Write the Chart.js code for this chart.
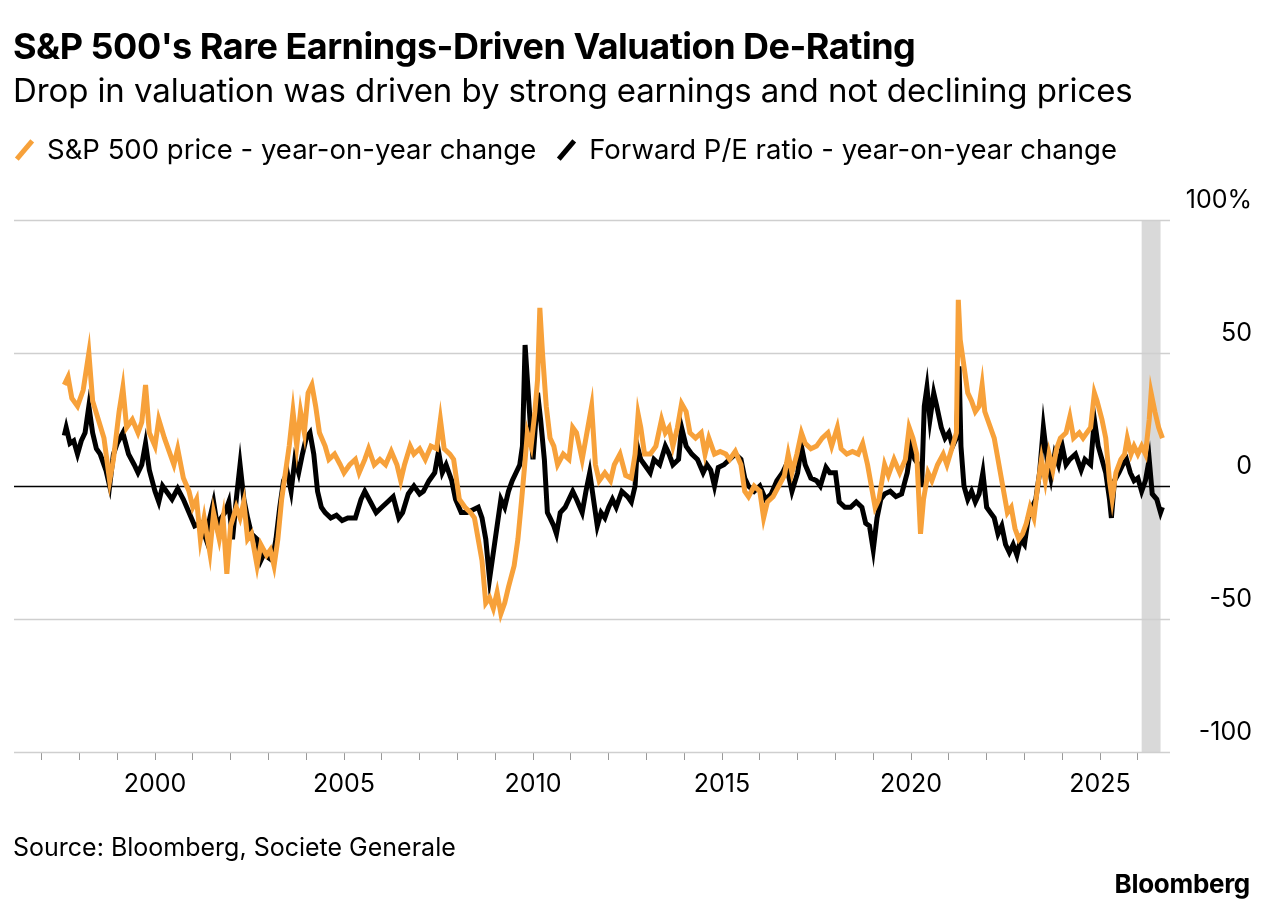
<!DOCTYPE html>
<html><head><meta charset="utf-8">
<script src="https://cdn.jsdelivr.net/npm/chart.js@4"></script>
<style>
body{margin:0;background:#fff;font-family:Inter,"Liberation Sans",sans-serif;color:#000;}
#wrap{position:absolute;left:0;top:0;width:1280px;height:923px;}
.t{position:absolute;white-space:nowrap;}
#title{left:13px;top:24px;font-size:36px;font-weight:700;letter-spacing:-0.5px;}
#sub{left:13px;top:70px;font-size:33px;letter-spacing:-0.1px;}
#leg{left:14px;top:132px;font-size:27.5px;}
.sw{display:inline-block;width:5px;height:24px;transform:rotate(40deg);vertical-align:-3px;margin:0 20px 0 8px;}
#src{left:13px;top:832px;font-size:25px;}
#bb{right:30px;top:868px;font-size:26px;font-weight:700;letter-spacing:-0.3px;}
canvas{position:absolute;left:0;top:0;}
</style></head><body>
<div id="wrap">
<canvas id="c" width="1280" height="923"></canvas>
<div class="t" id="title">S&amp;P 500's Rare Earnings-Driven Valuation De-Rating</div>
<div class="t" id="sub">Drop in valuation was driven by strong earnings and not declining prices</div>
<div class="t" id="leg"><span class="sw" style="background:#f7a13a"></span>S&amp;P 500 price - year-on-year change<span class="sw" style="background:#000;margin-left:28px"></span>Forward P/E ratio - year-on-year change</div>
<div class="t" id="src">Source: Bloomberg, Societe Generale</div>
<div class="t" id="bb">Bloomberg</div>
</div>
<script>
const priceYears=[1997.6,1997.7,1997.8,1997.95,1998.1,1998.25,1998.35,1998.5,1998.65,1998.8,1998.9,1999.05,1999.15,1999.25,1999.4,1999.55,1999.65,1999.75,1999.85,2000.0,2000.1,2000.25,2000.4,2000.5,2000.6,2000.75,2000.9,2001.0,2001.1,2001.2,2001.3,2001.45,2001.55,2001.7,2001.8,2001.9,2002.0,2002.15,2002.25,2002.35,2002.45,2002.55,2002.7,2002.8,2002.95,2003.05,2003.15,2003.25,2003.35,2003.45,2003.55,2003.65,2003.75,2003.85,2003.95,2004.05,2004.15,2004.25,2004.35,2004.5,2004.6,2004.75,2004.9,2005.0,2005.15,2005.3,2005.4,2005.55,2005.65,2005.8,2005.95,2006.1,2006.25,2006.4,2006.5,2006.6,2006.75,2006.85,2007.0,2007.15,2007.3,2007.45,2007.55,2007.65,2007.8,2007.9,2008.05,2008.2,2008.35,2008.45,2008.55,2008.65,2008.75,2008.85,2008.95,2009.05,2009.15,2009.25,2009.35,2009.5,2009.6,2009.7,2009.78,2009.85,2009.95,2010.05,2010.12,2010.18,2010.25,2010.35,2010.45,2010.55,2010.65,2010.8,2010.95,2011.05,2011.15,2011.3,2011.45,2011.55,2011.65,2011.75,2011.9,2012.05,2012.15,2012.3,2012.45,2012.6,2012.7,2012.78,2012.85,2012.95,2013.1,2013.25,2013.4,2013.5,2013.6,2013.7,2013.82,2013.93,2014.05,2014.15,2014.3,2014.45,2014.55,2014.65,2014.8,2014.95,2015.1,2015.2,2015.35,2015.5,2015.6,2015.7,2015.85,2016.0,2016.1,2016.2,2016.35,2016.5,2016.65,2016.75,2016.85,2016.98,2017.1,2017.2,2017.35,2017.5,2017.65,2017.8,2017.9,2018.05,2018.15,2018.3,2018.45,2018.6,2018.72,2018.85,2018.95,2019.05,2019.15,2019.3,2019.4,2019.55,2019.7,2019.85,2019.95,2020.05,2020.15,2020.25,2020.33,2020.45,2020.55,2020.7,2020.85,2020.95,2021.1,2021.2,2021.25,2021.3,2021.4,2021.5,2021.6,2021.7,2021.8,2021.88,2021.95,2022.1,2022.2,2022.3,2022.45,2022.55,2022.65,2022.75,2022.85,2022.95,2023.05,2023.15,2023.25,2023.35,2023.45,2023.55,2023.65,2023.75,2023.85,2023.95,2024.1,2024.2,2024.3,2024.45,2024.55,2024.65,2024.75,2024.85,2024.92,2025.05,2025.15,2025.25,2025.32,2025.42,2025.55,2025.65,2025.72,2025.82,2025.9,2026.0,2026.1,2026.2,2026.3,2026.35,2026.45,2026.55,2026.65];
const priceChange=[38,41,33,30,36,50,32,25,18,2,10,28,37,22,25,20,24,38,20,15,25,18,12,8,14,3,-2,-8,-5,-20,-12,-25,-10,-20,-12,-33,-15,-8,-12,-6,-20,-18,-30,-22,-26,-24,-30,-20,-5,5,15,28,15,28,20,35,38,30,20,15,10,12,8,5,8,10,5,10,14,8,10,8,13,8,2,8,15,12,14,10,15,14,25,14,12,10,-5,-8,-10,-12,-20,-28,-44,-42,-46,-40,-48,-44,-38,-30,-20,-5,8,20,15,28,40,67,50,30,18,15,8,12,10,22,20,10,22,30,8,2,5,2,8,12,4,3,12,27,22,12,12,15,25,20,22,15,22,31,28,20,18,20,12,18,12,13,12,10,13,8,-2,-4,0,-2,-12,-6,-4,0,4,12,5,12,20,16,14,15,18,20,15,22,14,12,13,12,16,8,0,-8,-5,8,4,10,5,10,22,18,12,-18,-5,5,2,8,12,8,15,20,70,55,45,35,32,28,30,38,28,22,18,10,-2,-10,-8,-16,-20,-18,-14,-8,-12,0,10,2,12,6,14,18,20,26,18,20,18,20,22,35,32,25,18,2,-5,5,10,12,18,12,15,12,15,12,25,35,28,22,18];
const peYears=[1997.6,1997.65,1997.75,1997.85,1997.95,1998.05,1998.15,1998.25,1998.35,1998.45,1998.55,1998.7,1998.8,1998.9,1999.0,1999.15,1999.3,1999.45,1999.55,1999.65,1999.75,1999.85,2000.0,2000.1,2000.2,2000.3,2000.45,2000.6,2000.75,2000.9,2001.05,2001.2,2001.35,2001.45,2001.55,2001.65,2001.75,2001.85,2001.95,2002.05,2002.15,2002.25,2002.35,2002.45,2002.55,2002.7,2002.8,2002.9,2003.0,2003.1,2003.2,2003.3,2003.4,2003.5,2003.6,2003.7,2003.8,2003.9,2004.0,2004.1,2004.2,2004.3,2004.4,2004.5,2004.65,2004.8,2004.95,2005.1,2005.3,2005.45,2005.55,2005.7,2005.85,2006.0,2006.15,2006.3,2006.45,2006.55,2006.7,2006.85,2007.0,2007.1,2007.25,2007.4,2007.5,2007.6,2007.7,2007.85,2007.95,2008.1,2008.25,2008.4,2008.55,2008.65,2008.75,2008.85,2008.95,2009.05,2009.15,2009.25,2009.35,2009.45,2009.55,2009.65,2009.72,2009.79,2009.85,2009.92,2010.0,2010.05,2010.12,2010.2,2010.3,2010.38,2010.45,2010.55,2010.62,2010.72,2010.85,2010.95,2011.05,2011.15,2011.3,2011.4,2011.5,2011.6,2011.7,2011.8,2011.9,2012.0,2012.1,2012.2,2012.35,2012.5,2012.6,2012.7,2012.76,2012.85,2012.95,2013.1,2013.2,2013.35,2013.5,2013.6,2013.7,2013.85,2013.93,2014.05,2014.2,2014.35,2014.5,2014.6,2014.7,2014.8,2014.9,2015.05,2015.2,2015.35,2015.5,2015.6,2015.7,2015.85,2016.0,2016.15,2016.3,2016.45,2016.6,2016.7,2016.85,2017.0,2017.1,2017.2,2017.35,2017.5,2017.6,2017.75,2017.85,2018.0,2018.1,2018.25,2018.4,2018.55,2018.7,2018.8,2018.9,2019.0,2019.1,2019.2,2019.3,2019.45,2019.6,2019.75,2019.9,2020.0,2020.1,2020.2,2020.28,2020.35,2020.42,2020.5,2020.6,2020.68,2020.8,2020.9,2021.0,2021.1,2021.2,2021.27,2021.32,2021.4,2021.5,2021.6,2021.7,2021.8,2021.9,2022.0,2022.1,2022.2,2022.3,2022.4,2022.5,2022.6,2022.7,2022.8,2022.9,2023.0,2023.1,2023.2,2023.3,2023.4,2023.5,2023.6,2023.7,2023.8,2023.9,2024.0,2024.1,2024.2,2024.35,2024.5,2024.6,2024.75,2024.85,2024.95,2025.05,2025.15,2025.25,2025.3,2025.38,2025.5,2025.6,2025.7,2025.8,2025.9,2026.0,2026.1,2026.2,2026.3,2026.38,2026.5,2026.6,2026.65];
const peChange=[19,22,16,17,12,17,20,30,20,14,12,6,0,12,16,20,12,8,5,8,16,6,-2,-6,0,-2,-5,-1,-5,-10,-15,-14,-20,-12,-6,-15,-12,-10,-6,-20,-5,8,-5,-12,-18,-20,-28,-25,-27,-28,-20,-8,2,5,-2,10,5,12,18,20,12,-2,-8,-10,-12,-11,-13,-12,-12,-5,-2,-6,-10,-8,-6,-4,-12,-10,-3,0,-3,-2,2,5,13,5,8,2,-5,-10,-10,-9,-8,-12,-20,-35,-25,-15,-5,-8,-2,2,5,8,15,53,40,25,10,20,35,25,10,-10,-12,-15,-18,-10,-8,-5,-2,-5,-10,-2,5,-5,-15,-10,-12,-8,-5,-8,-2,-4,-6,0,15,10,8,5,10,8,15,12,8,10,22,15,12,10,5,8,6,0,7,8,10,12,10,3,0,-2,0,-5,-3,2,5,8,-2,5,15,8,3,2,0,7,5,5,-6,-8,-8,-6,-8,-14,-15,-24,-12,-5,-3,-2,-4,-3,5,15,10,8,0,30,37,25,35,30,22,18,20,15,18,45,15,0,-5,-2,-6,-3,5,-8,-10,-12,-18,-15,-22,-25,-22,-26,-20,-22,-12,-8,-5,5,22,10,3,12,8,15,8,10,12,6,10,8,25,15,10,5,-5,-12,2,5,8,10,5,2,3,-2,2,10,-3,-5,-10,-8];
const yTicks=[100,50,0,-50,-100];
const xLabelYears=[2000,2005,2010,2015,2020,2025];
const shadeFrom=2026.1, shadeTo=2026.6;

const pts=(xs,ys)=>xs.map((x,i)=>({x:x,y:ys[i]}));
const FONT='Inter, "Liberation Sans", sans-serif';
const deco={id:'deco',
 beforeDatasetsDraw(ch){
  const {ctx,chartArea:a,scales:{x,y}}=ch;
  ctx.save();
  ctx.fillStyle='#d9d9d9';
  const x0=x.getPixelForValue(shadeFrom),x1=x.getPixelForValue(shadeTo);
  ctx.fillRect(x0,a.top,x1-x0,a.bottom-a.top);
  yTicks.forEach(v=>{
   const py=Math.round(y.getPixelForValue(v))+0.5;
   ctx.strokeStyle=v===0?'#000':'#cfcfcf';ctx.lineWidth=1.5;
   ctx.beginPath();ctx.moveTo(a.left,py);ctx.lineTo(a.right,py);ctx.stroke();
   ctx.fillStyle='#000';ctx.font='25px '+FONT;ctx.textAlign='right';ctx.textBaseline='bottom';
   ctx.fillText(v===100?'100%':String(v),1252,py-8);
  });
  ctx.restore();
 }};
new Chart(document.getElementById('c'),{
 type:'line',
 data:{datasets:[
  {data:pts(peYears,peChange),borderColor:'#000',borderWidth:5,pointRadius:0,tension:0,order:2},
  {data:pts(priceYears,priceChange),borderColor:'#f7a13a',borderWidth:5,pointRadius:0,tension:0,order:1}
 ]},
 options:{responsive:false,animation:false,events:[],
  layout:{padding:{left:14,right:110,top:220,bottom:131}},
  plugins:{legend:{display:false},tooltip:{enabled:false}},
  scales:{
   x:{type:'linear',min:1996.27,max:2026.85,
    afterFit(s){s.height=40;},
    afterBuildTicks(s){const t=[];for(let yr=1997;yr<=2026;yr++)t.push({value:yr});s.ticks=t;},
    grid:{drawOnChartArea:false,drawTicks:true,tickLength:8,color:'#999',lineWidth:1},
    border:{display:false},
    ticks:{autoSkip:false,maxRotation:0,color:'#000',font:{size:25,family:FONT},padding:9,
     callback:v=>xLabelYears.includes(v)?String(v):''}},
   y:{display:false,min:-100,max:100}
  }},
 plugins:[deco]
});
</script>
</body></html>
